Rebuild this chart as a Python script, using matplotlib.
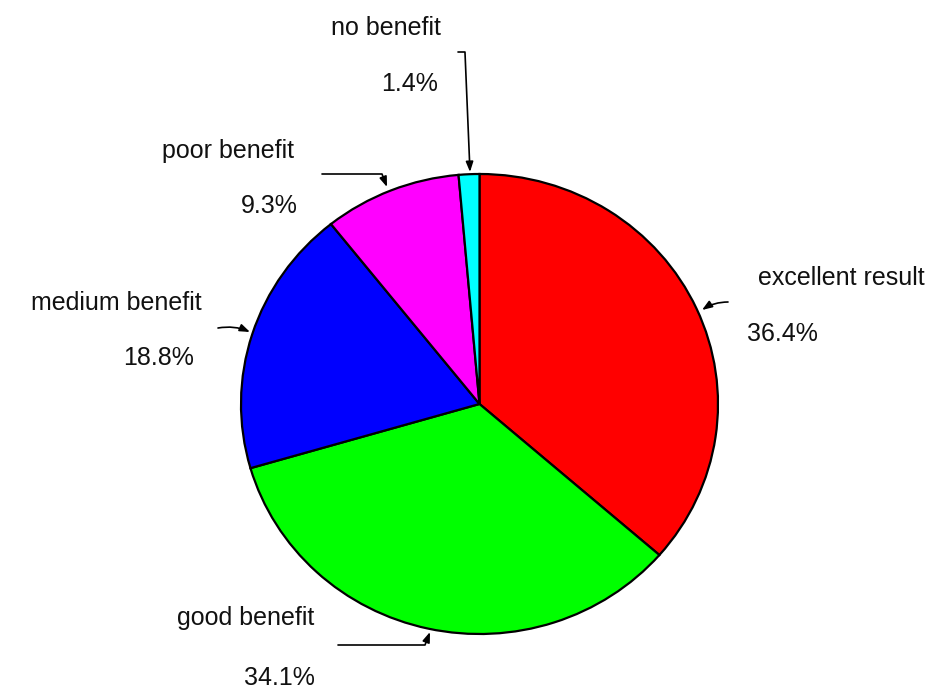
import matplotlib.pyplot as plt

# data (clockwise from 12 o'clock)
labels = ['excellent result', 'good benefit', 'medium benefit', 'poor benefit', 'no benefit']
shares = [36.4, 34.1, 18.8, 9.3, 1.4]
colors = ['#ff0000', '#00ff00', '#0000ff', '#ff00ff', '#00ffff']

W, H = 948, 690
plt.rcParams['font.family'] = ['Liberation Sans', 'DejaVu Sans']

fig = plt.figure(figsize=(W / 100, H / 100), dpi=100)
# pie box in pixels: x 241..718, y 174..634 (slightly squashed, like the original)
ax = fig.add_axes([241 / W, 1 - 634 / H, 477 / W, 460 / H])
wedges, _ = ax.pie(shares, colors=colors, startangle=90, counterclock=False,
                   wedgeprops=dict(edgecolor='black', linewidth=1.6))
for w in wedges:
    w.set_clip_on(False)
ax.set_aspect('auto')
ax.set_xlim(-1, 1)
ax.set_ylim(-1, 1)
ax.axis('off')


def px(x, y):
    # pixel from top-left -> figure pixels
    return (x, H - y)


# label text: (centre x, baseline y) for name and percentage
name_pos = [(841, 285), (246, 625), (116, 310), (228, 158), (386, 35)]
pct_pos = [(782, 341), (279, 685), (159, 365), (269, 213), (410, 91)]

for lab, val, (nx, ny), (qx, qy) in zip(labels, shares, name_pos, pct_pos):
    fig.text(nx / W, 1 - ny / H, lab, ha='center', va='baseline',
             fontsize=18, color='#111111')
    fig.text(qx / W, 1 - qy / H, '%.1f%%' % val, ha='center', va='baseline',
             fontsize=18, color='#111111')

# leader arrows: (start, tip, connection style)
arrows = [
    ((728, 302), (702, 310), 'arc3,rad=0.15'),
    ((338, 645), (430, 632), 'angle,angleA=0,angleB=-111,rad=0'),
    ((218, 328), (250, 332), 'arc3,rad=-0.15'),
    ((322, 174), (387, 187), 'angle,angleA=0,angleB=111,rad=0'),
    ((458, 52), (470, 172), 'angle,angleA=0,angleB=92.4,rad=0'),
]
for start, tip, cs in arrows:
    fig.add_artist(plt.Annotation(
        '', xy=px(*tip), xycoords='figure pixels',
        xytext=px(*start), textcoords='figure pixels',
        arrowprops=dict(arrowstyle='-|>,head_length=0.6,head_width=0.22',
                        mutation_scale=10, color='black', lw=1.2,
                        shrinkA=0, shrinkB=0, connectionstyle=cs)))

fig.savefig('out.png', dpi=100)
